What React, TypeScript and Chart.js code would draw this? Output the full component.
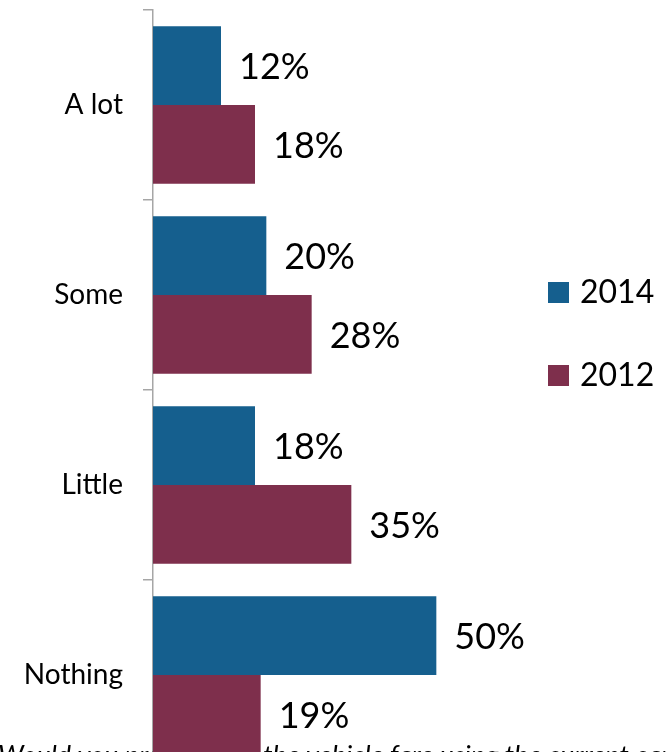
import React, { useEffect, useRef } from 'react';
import { Chart, registerables } from 'chart.js';

Chart.register(...registerables);

const categories = ['A lot', 'Some', 'Little', 'Nothing'];
const values2014 = [12, 20, 18, 50];
const values2012 = [18, 28, 35, 19];
const seriesNames = ['2014', '2012'];
const seriesColors = ['#155F8E', '#7E2F4C'];
const questionParts = ['Would you prefer to', 'the vehicle fare using the current card?'];

const FONT = 'Lato, "Open Sans", sans-serif';

const questionPlugin = {
  id: 'questionText',
  beforeDatasetsDraw(chart: any) {
    const ctx = chart.ctx;
    ctx.save();
    ctx.fillStyle = '#000';
    ctx.font = `italic 27px ${FONT}`;
    ctx.textBaseline = 'alphabetic';
    ctx.textAlign = 'left';
    ctx.fillText(questionParts[0], -2, 765);
    ctx.fillText(questionParts[1], 263, 765);
    ctx.restore();
  },
};

const labelPlugin = {
  id: 'valueLabels',
  afterDatasetsDraw(chart: any) {
    const ctx = chart.ctx;
    ctx.save();
    ctx.fillStyle = '#000';
    ctx.font = `36px ${FONT}`;
    ctx.textBaseline = 'middle';
    ctx.textAlign = 'left';
    chart.data.datasets.forEach((ds: any, i: number) => {
      const meta = chart.getDatasetMeta(i);
      meta.data.forEach((el: any, j: number) => {
        ctx.fillText(`${ds.data[j]}%`, el.x + 18, el.y + 2);
      });
    });
    ctx.restore();
  },
};

const legendPlugin = {
  id: 'sideLegend',
  afterDraw(chart: any) {
    const ctx = chart.ctx;
    ctx.save();
    ctx.font = `32px ${FONT}`;
    ctx.textBaseline = 'alphabetic';
    ctx.textAlign = 'left';
    chart.data.datasets.forEach((ds: any, i: number) => {
      const base = 303 + i * 83;
      ctx.fillStyle = ds.backgroundColor;
      ctx.fillRect(548, base - 21, 21, 21);
      ctx.fillStyle = '#000';
      ctx.fillText(ds.label, 580, base);
    });
    ctx.restore();
  },
};

export default function App() {
  const ref = useRef<HTMLCanvasElement>(null);

  useEffect(() => {
    if (!ref.current) return;
    const chart = new Chart(ref.current, {
      type: 'bar',
      data: {
        labels: categories,
        datasets: [
          {
            label: seriesNames[0],
            data: values2014,
            backgroundColor: seriesColors[0],
            barPercentage: 1,
            categoryPercentage: 0.83,
          },
          {
            label: seriesNames[1],
            data: values2012,
            backgroundColor: seriesColors[1],
            barPercentage: 1,
            categoryPercentage: 0.83,
          },
        ],
      },
      options: {
        indexAxis: 'y',
        responsive: false,
        animation: false,
        layout: { padding: { top: 10, bottom: 20, left: 0, right: 173 } },
        plugins: {
          legend: { display: false },
          tooltip: { enabled: false },
        },
        scales: {
          x: { display: false, min: 0, max: 60 },
          y: {
            grid: {
              display: true,
              drawOnChartArea: false,
              drawTicks: true,
              tickLength: 10,
              color: '#a6a6a6',
              lineWidth: 1.5,
              offset: true,
            },
            border: { display: true, color: '#a6a6a6', width: 1.5 },
            ticks: {
              color: '#000',
              font: { family: FONT, size: 28 },
              padding: 20,
            },
            afterFit: (s: any) => {
              s.width = 153;
              s.paddingTop = 0;
              s.paddingBottom = 0;
            },
          },
        },
      },
      plugins: [questionPlugin, labelPlugin, legendPlugin],
    } as any);
    return () => chart.destroy();
  }, []);

  return (
    <div
      style={{
        position: 'fixed',
        top: 0,
        left: 0,
        width: 666,
        height: 752,
        overflow: 'hidden',
        background: '#fff',
      }}
    >
      <canvas ref={ref} width={666} height={790} style={{ display: 'block' }} />
    </div>
  );
}
